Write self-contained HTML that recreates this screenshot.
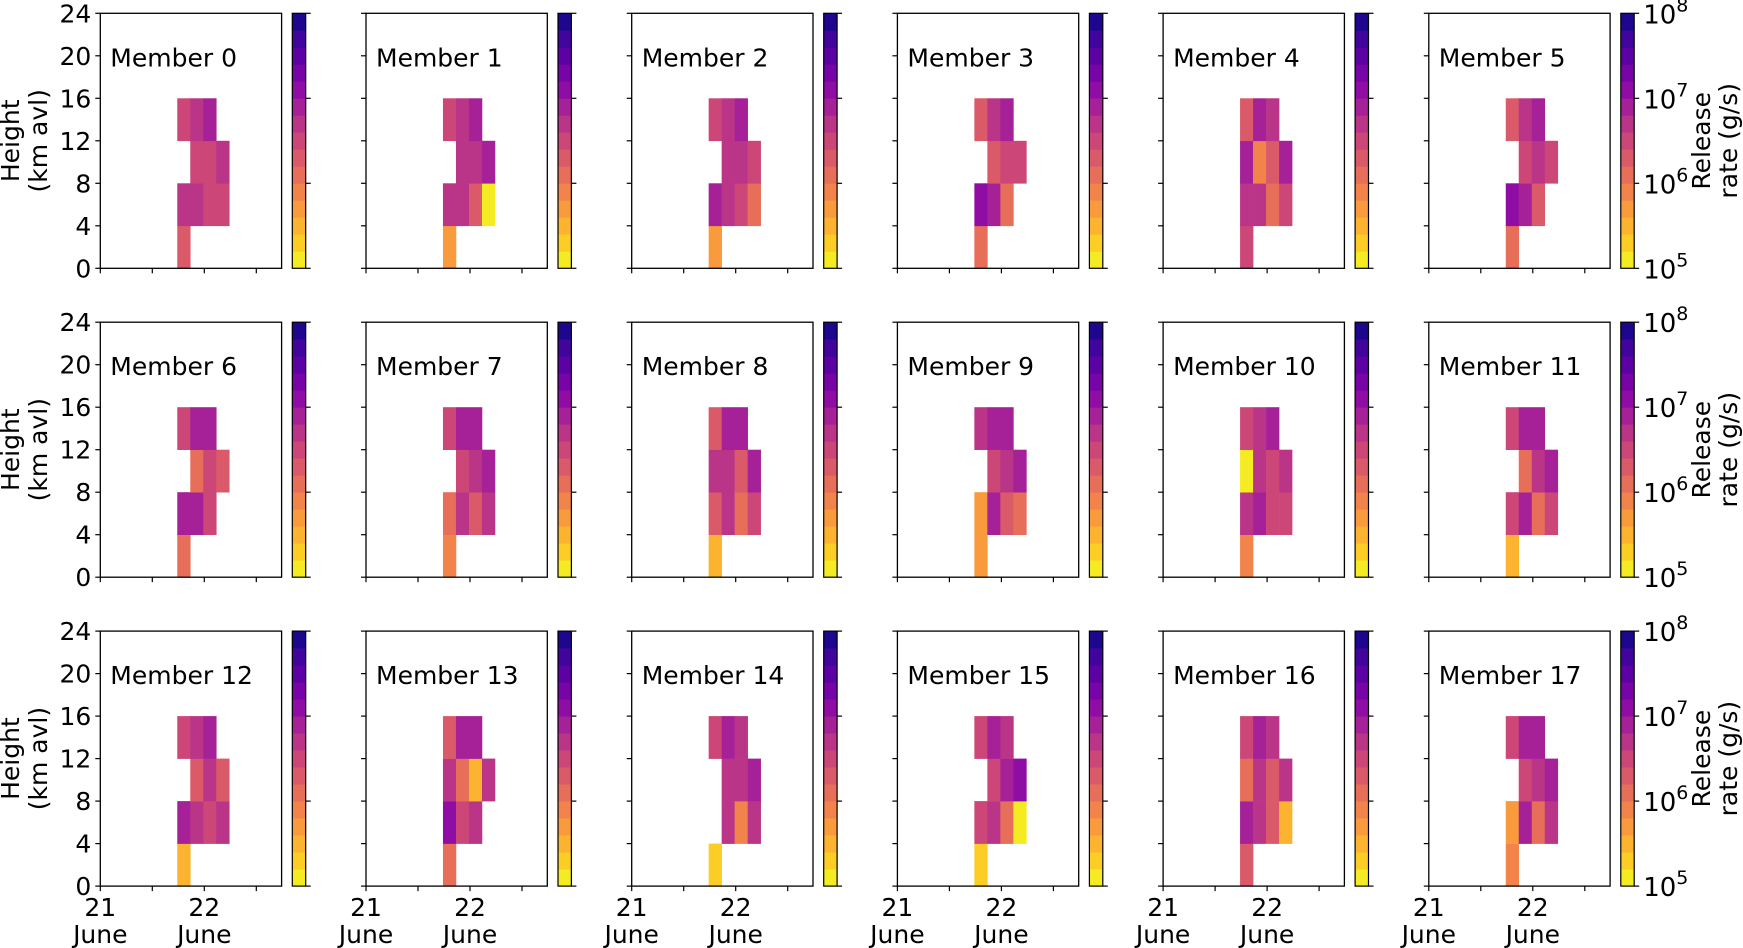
<!DOCTYPE html>
<html><head><meta charset="utf-8">
<style>
body{margin:0;background:#fff;}
svg{display:block;font-family:"DejaVu Sans","Liberation Sans",sans-serif;}
</style></head>
<body>
<svg id="fig" width="1743" height="948" viewBox="0 0 1743 948" xmlns="http://www.w3.org/2000/svg"></svg>
<script>
// ---- data ----
const yTicks = [0, 4, 8, 12, 16, 20, 24];
const xTickDays = [0, 0.5, 1, 1.5];
const xTickLabels = ["21", "", "22", ""];
const cbDecades = [5, 6, 7, 8];
const binStartDay = 0.74;
const binHours = 3;
const binHeightKm = 4;
// each member: [timeBin, heightBin, log10 release rate]
const member0 = [[0,0,6.3],[0,1,6.7],[0,3,6.5],[1,1,6.7],[1,2,6.5],[1,3,6.7],[2,1,6.5],[2,2,6.5],[2,3,6.9],[3,1,6.5],[3,2,6.7]];
const member1 = [[0,0,5.7],[0,1,6.7],[0,3,6.5],[1,1,6.7],[1,2,6.7],[1,3,6.7],[2,1,6.3],[2,2,6.7],[2,3,6.9],[3,1,5.1],[3,2,6.9]];
const member2 = [[0,0,5.7],[0,1,6.9],[0,3,6.5],[1,1,6.7],[1,2,6.7],[1,3,6.7],[2,1,6.5],[2,2,6.7],[2,3,6.9],[3,1,6.1],[3,2,6.5]];
const member3 = [[0,0,6.1],[0,1,7.1],[0,3,6.3],[1,1,6.9],[1,2,6.3],[1,3,6.7],[2,1,6.1],[2,2,6.5],[2,3,6.9],[3,2,6.5]];
const member4 = [[0,0,6.5],[0,1,6.7],[0,2,6.9],[0,3,6.3],[1,1,6.7],[1,2,5.9],[1,3,6.9],[2,1,6.1],[2,2,6.3],[2,3,6.7],[3,1,6.5],[3,2,6.9]];
const member5 = [[0,0,6.1],[0,1,7.1],[0,3,6.3],[1,1,6.9],[1,2,6.5],[1,3,6.7],[2,1,6.3],[2,2,6.7],[2,3,6.9],[3,2,6.5]];
const member6 = [[0,0,6.1],[0,1,6.9],[0,3,6.5],[1,1,6.9],[1,2,6.1],[1,3,6.9],[2,1,6.5],[2,2,6.5],[2,3,6.9],[3,2,6.3]];
const member7 = [[0,0,5.9],[0,1,6.1],[0,3,6.5],[1,1,6.7],[1,2,6.5],[1,3,6.9],[2,1,6.3],[2,2,6.7],[2,3,6.9],[3,1,6.7],[3,2,6.9]];
const member8 = [[0,0,5.5],[0,1,6.3],[0,2,6.7],[0,3,6.3],[1,1,6.7],[1,2,6.7],[1,3,6.9],[2,1,6.1],[2,2,6.3],[2,3,6.9],[3,1,6.5],[3,2,6.9]];
const member9 = [[0,0,5.7],[0,1,5.7],[0,3,6.7],[1,1,6.9],[1,2,6.5],[1,3,6.9],[2,1,6.3],[2,2,6.7],[2,3,6.9],[3,1,6.1],[3,2,6.9]];
const member10 = [[0,0,5.9],[0,1,6.7],[0,2,5.1],[0,3,6.5],[1,1,6.9],[1,2,6.7],[1,3,6.7],[2,1,6.5],[2,2,6.5],[2,3,6.9],[3,1,6.5],[3,2,6.7]];
const member11 = [[0,0,5.5],[0,1,6.5],[0,3,6.5],[1,1,6.9],[1,2,6.1],[1,3,6.9],[2,1,6.1],[2,2,6.7],[2,3,6.9],[3,1,6.5],[3,2,6.9]];
const member12 = [[0,0,5.5],[0,1,6.9],[0,3,6.5],[1,1,6.7],[1,2,6.3],[1,3,6.7],[2,1,6.5],[2,2,6.7],[2,3,6.9],[3,1,6.7],[3,2,6.3]];
const member13 = [[0,0,6.1],[0,1,7.1],[0,2,6.7],[0,3,6.3],[1,1,6.5],[1,2,6.1],[1,3,6.9],[2,1,6.7],[2,2,5.5],[2,3,6.9],[3,2,6.7]];
const member14 = [[0,0,5.3],[0,3,6.5],[1,1,6.7],[1,2,6.7],[1,3,6.9],[2,1,5.9],[2,2,6.7],[2,3,6.7],[3,1,6.7],[3,2,6.9]];
const member15 = [[0,0,5.3],[0,1,6.5],[0,3,6.5],[1,1,6.7],[1,2,6.5],[1,3,6.9],[2,1,6.1],[2,2,6.9],[2,3,6.7],[3,1,5.1],[3,2,7.1]];
const member16 = [[0,0,6.3],[0,1,6.9],[0,2,6.1],[0,3,6.5],[1,1,6.7],[1,2,6.7],[1,3,6.9],[2,1,6.3],[2,2,6.3],[2,3,6.7],[3,1,5.5],[3,2,6.7]];
const member17 = [[0,0,5.9],[0,1,5.7],[0,3,6.5],[1,1,6.9],[1,2,6.5],[1,3,6.9],[2,1,6.1],[2,2,6.7],[2,3,6.9],[3,1,6.7],[3,2,6.9]];
const members = [member0,member1,member2,member3,member4,member5,member6,member7,member8,member9,member10,member11,member12,member13,member14,member15,member16,member17];

// ---- layout ----
const NS = "http://www.w3.org/2000/svg";
const svg = document.getElementById("fig");
const colLeft0 = 100.3, colStep = 265.7, axW = 181.3;
const rowTops = [13.3, 322.2, 631.1], axH = 255;
const dayPx = 104, maxKm = 24;
const cbOff = 192, cbW = 13.4, nBands = 15;
const FS = 25;

const plasma = [[0,"#0d0887"],[0.1,"#41049d"],[0.2,"#6a00a8"],[0.3,"#8f0da4"],[0.4,"#b12a90"],[0.5,"#cc4778"],[0.6,"#e16462"],[0.7,"#f2844b"],[0.8,"#fca636"],[0.9,"#fcce25"],[1,"#f0f921"]];
function hx(c){return [1,3,5].map(i=>parseInt(c.substr(i,2),16));}
function plasmaAt(t){
  for(let i=0;i<plasma.length-1;i++){
    const [t0,c0]=plasma[i],[t1,c1]=plasma[i+1];
    if(t<=t1){const f=(t-t0)/(t1-t0);const a=hx(c0),b=hx(c1);
      return "rgb("+a.map((v,k)=>Math.round(v+(b[k]-v)*f)).join(",")+")";}
  }
  return plasma[plasma.length-1][1];
}
function bandOf(logv){return Math.max(0,Math.min(nBands-1,Math.floor((logv-5)/(3/nBands)+1e-6)));}
function colorOfBand(b){return plasmaAt(1-(b+0.5)/nBands);}

function el(tag, attrs, parent){
  const e=document.createElementNS(NS,tag);
  for(const k in attrs) e.setAttribute(k,attrs[k]);
  (parent||svg).appendChild(e); return e;
}
function txt(s, attrs, parent){const t=el("text",attrs,parent);t.textContent=s;return t;}

members.forEach((cells, m)=>{
  const r=Math.floor(m/6), c=m%6;
  const L=colLeft0+c*colStep, T=rowTops[r], B=T+axH;
  const xS=d=>L+d*dayPx;
  const yS=km=>B-km/maxKm*axH;
  const g=el("g",{});
  
  
  cells.forEach(([tb,hb,v])=>{
    const d0=binStartDay+tb*binHours/24, d1=d0+binHours/24;
    const rc=el("rect",{x:xS(d0),y:yS((hb+1)*binHeightKm),width:xS(d1)-xS(d0)+0.3,height:yS(hb*binHeightKm)-yS((hb+1)*binHeightKm)+0.3,fill:colorOfBand(bandOf(v))},g);
    
    
  });
  const fr=el("rect",{x:L,y:T,width:axW,height:axH,fill:"none",stroke:"#000","stroke-width":1.3},g);
  
  
  yTicks.forEach(v=>{
    const y=yS(v);
    el("line",{x1:L-5,x2:L,y1:y,y2:y,stroke:"#000","stroke-width":1.2},g);
    if(c===0){
      const t=txt(String(v),{x:L-9,y:y+9,"font-size":FS,"text-anchor":"end"},g);
      
      
    }
  });
  xTickDays.forEach((d,i)=>{
    const x=xS(d);
    el("line",{x1:x,x2:x,y1:B,y2:B+5,stroke:"#000","stroke-width":1.2},g);
    if(r===2 && xTickLabels[i]){
      const t=txt(xTickLabels[i],{x:x,y:B+30,"font-size":FS,"text-anchor":"middle"},g);
      
      
      const t2=txt("June",{x:x,y:B+57,"font-size":FS,"text-anchor":"middle"},g);
      
      
    }
  });
  const tt=txt("Member "+m,{x:L+10,y:T+53,"font-size":FS},g);
  
  
  const cx=L+cbOff, bh=axH/nBands;
  const cb=el("g",{},g);
  
  
  for(let b=0;b<nBands;b++){
    el("rect",{x:cx,y:B-(b+1)*bh,width:cbW,height:bh+0.4,fill:colorOfBand(b)},cb);
  }
  el("rect",{x:cx,y:T,width:cbW,height:axH,fill:"none",stroke:"#000","stroke-width":1.2},cb);
  cbDecades.forEach(dv=>{
    const y=B-(dv-5)/3*axH;
    el("line",{x1:cx+cbW,x2:cx+cbW+5,y1:y,y2:y,stroke:"#000","stroke-width":1.2},cb);
    if(c===5){
      const t=el("text",{x:cx+cbW+9,y:y+10,"font-size":26},cb);
      
      
      t.textContent="10";
      const s=el("tspan",{dy:-12,"font-size":19},t);s.textContent=String(dv);
    }
  });
  if(c===0){
    const yl=el("text",{transform:"translate(0,"+(T+axH/2)+") rotate(-90)","font-size":FS,"text-anchor":"middle"},g);
    
    
    const a=el("tspan",{x:0,y:19},yl);a.textContent="Height";
    const b2=el("tspan",{x:0,y:47},yl);b2.textContent="(km avl)";
  }
  if(c===5){
    const cl=el("text",{transform:"translate(1700,"+(T+axH/2)+") rotate(-90)","font-size":FS,"text-anchor":"middle"},g);
    
    
    const a=el("tspan",{x:0,y:10},cl);a.textContent="Release";
    const b2=el("tspan",{x:0,y:37},cl);b2.textContent="rate (g/s)";
  }
});
</script>
</body></html>
